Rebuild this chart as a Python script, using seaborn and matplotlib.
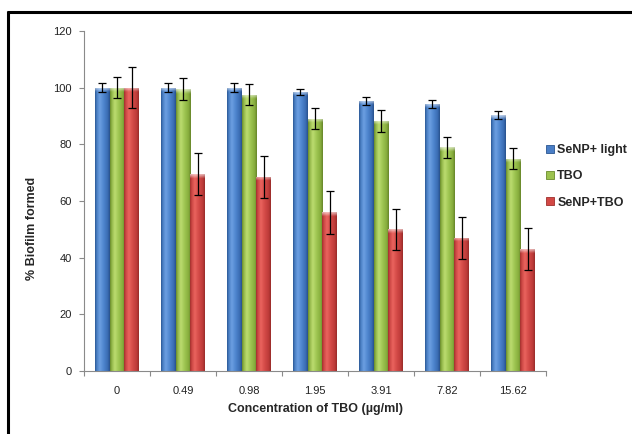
import numpy as np
import pandas as pd
import matplotlib
matplotlib.use("Agg")
import matplotlib.pyplot as plt
import seaborn as sns
from matplotlib.colors import to_rgb
from matplotlib.patches import Patch
from matplotlib.lines import Line2D

# ---------------- data ----------------
concentrations = ["0", "0.49", "0.98", "1.95", "3.91", "7.82", "15.62"]
series_names = ["SeNP+ light", "TBO", "SeNP+TBO"]
senp_light = [100, 100, 100, 98.5, 95.3, 94.3, 90.3]
senp_light_err = [1.5, 1.5, 1.5, 1.2, 1.5, 1.3, 1.3]
tbo = [100, 99.5, 97.5, 89, 88.3, 79, 75]
tbo_err = [3.7, 3.8, 3.7, 3.7, 3.9, 3.7, 3.7]
senp_tbo = [100, 69.5, 68.5, 56, 50, 47, 43]
senp_tbo_err = [7.3, 7.5, 7.3, 7.5, 7.3, 7.3, 7.3]
y_ticks = [0, 20, 40, 60, 80, 100, 120]

values = [senp_light, tbo, senp_tbo]
errors = [senp_light_err, tbo_err, senp_tbo_err]

df = pd.DataFrame({
    "conc": concentrations * 3,
    "series": sum([[s] * len(concentrations) for s in series_names], []),
    "value": senp_light + tbo + senp_tbo,
})

base_colors = {"SeNP+ light": "#4a7ec6", "TBO": "#9cc24e", "SeNP+TBO": "#d24845"}
grad_stops = {
    "SeNP+ light": [(0, "#2c5996"), (0.12, "#4a7fc4"), (0.32, "#6c9fe2"),
                    (0.58, "#4f86cf"), (0.86, "#3a6cb3"), (1, "#28518c")],
    "TBO": [(0, "#6b8b2c"), (0.12, "#93b84a"), (0.32, "#bcdc70"),
            (0.58, "#9fc652"), (0.86, "#86ac3c"), (1, "#66852a")],
    "SeNP+TBO": [(0, "#a3302e"), (0.12, "#cb4744"), (0.32, "#ea645e"),
                 (0.58, "#d44b48"), (0.86, "#bd3b39"), (1, "#992c2a")],
}
edge_colors = {"SeNP+ light": "#2a5590", "TBO": "#6a8a2c", "SeNP+TBO": "#9e2e2c"}


def make_gradient(stops, height, bevel=1.4, n=48, rows=240):
    pos = np.array([p for p, _ in stops])
    cols = np.array([to_rgb(c) for _, c in stops])
    xs = np.linspace(0, 1, n)
    row = np.stack([np.interp(xs, pos, cols[:, k]) for k in range(3)], axis=-1)
    img = np.repeat(row[np.newaxis, :, :], rows, axis=0)
    # lighter bevel at the top of each bar (row 0 is the top with origin='upper')
    ys = np.linspace(height, 0, rows)
    depth = np.clip((ys - (height - bevel)) / bevel, 0, 1)
    # triangular (V) shaped highlight
    v = 1 - np.abs(xs - 0.5) * 2
    mix = np.clip(depth[:, None] * (0.25 + 0.35 * (1 - v[None, :] * 0)), 0, 1)
    img = img * (1 - mix[:, :, None]) + mix[:, :, None] * 1.0
    return img


# ---------------- figure ----------------
sns.set_style("white")
plt.rcParams["font.family"] = ["Liberation Sans", "DejaVu Sans"]

fig = plt.figure(figsize=(6.32, 4.34), dpi=100)
ax = fig.add_axes([84 / 632, 63 / 434, 462 / 632, 340 / 434])

sns.barplot(data=df, x="conc", y="value", hue="series",
            order=concentrations, hue_order=series_names,
            palette=base_colors, width=0.667, gap=0, saturation=1,
            errorbar=None, legend=False, ax=ax, linewidth=0)

# gradient fill + error bars
for name, container, errs in zip(series_names, ax.containers, errors):
    xs, ys = [], []
    for p in container:
        x0, w, h = p.get_x(), p.get_width(), p.get_height()
        grad = make_gradient(grad_stops[name], h)
        im = ax.imshow(grad, extent=[x0, x0 + w, 0, h], aspect="auto",
                       origin="upper", zorder=p.get_zorder() + 0.1,
                       interpolation="bilinear")
        im.set_clip_path(p)
        xs.append(x0 + w / 2)
        ys.append(h)
    ax.errorbar(xs, ys, yerr=errs, fmt="none", ecolor="black",
                elinewidth=0.9, capsize=3.2, capthick=0.9, zorder=6)

ax.set_xlim(-0.5, len(concentrations) - 0.5)
ax.set_ylim(0, 120)
ax.set_yticks(y_ticks)

ax.set_xticks(range(len(concentrations)))
ax.set_xticklabels(concentrations)
ax.set_xticks(np.arange(-0.5, len(concentrations), 1.0), minor=True)
ax.tick_params(axis="x", which="major", length=0, pad=11, labelsize=8,
               labelcolor="#222222")
ax.tick_params(axis="x", which="minor", length=3.6, width=0.8, color="#8a8a8a",
               direction="out", bottom=True)
ax.tick_params(axis="y", which="major", length=3.6, width=0.8, color="#8a8a8a",
               direction="out", left=True, pad=5, labelsize=8,
               labelcolor="#222222")

for s in ["top", "right"]:
    ax.spines[s].set_visible(False)
for s in ["left", "bottom"]:
    ax.spines[s].set_color("#8a8a8a")
    ax.spines[s].set_linewidth(0.8)

ax.set_xlabel("Concentration of TBO (µg/ml)", fontsize=9, fontweight="bold",
              labelpad=5)
ax.set_ylabel("% Biofilm formed", fontsize=9, fontweight="bold")
ax.yaxis.set_label_coords(-0.10, 0.42)

handles = [Patch(facecolor=base_colors[n], edgecolor=edge_colors[n], linewidth=0.6)
           for n in series_names]
fig.legend(handles, series_names, loc="upper left",
           bbox_to_anchor=(546 / 632, 1 - 144 / 434), frameon=False,
           borderpad=0, borderaxespad=0, handlelength=0.6, handleheight=0.6,
           handletextpad=0.3, labelspacing=1.15,
           prop={"size": 9, "weight": "bold"})

# outer frame (top and left edges visible)
fig.add_artist(Line2D([7 / 632, 1], [1 - 11.5 / 434, 1 - 11.5 / 434],
                      transform=fig.transFigure, color="black", linewidth=2.2,
                      solid_capstyle="butt"))
fig.add_artist(Line2D([8 / 632, 8 / 632], [0, 1 - 10.5 / 434],
                      transform=fig.transFigure, color="black", linewidth=2.2,
                      solid_capstyle="butt"))

fig.savefig("out.png", dpi=100)
